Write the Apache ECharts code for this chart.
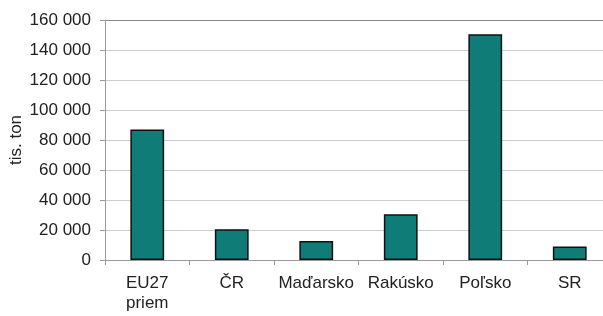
<!DOCTYPE html>
<html>
<head>
<meta charset="utf-8">
<script src="https://cdn.jsdelivr.net/npm/echarts@6/dist/echarts.min.js"></script>
<style>html,body{margin:0;padding:0;background:#fff;}#c{width:603px;height:316px;}</style>
</head>
<body>
<div id="c"></div>
<script>
const categories = ["EU27\npriem", "ČR", "Maďarsko", "Rakúsko", "Poľsko", "SR"];
const values = [87000, 20500, 12700, 30500, 150500, 9000];
const yTicks = { min: 0, max: 160000, interval: 20000 };
const yName = "tis. ton";

const chart = echarts.init(document.getElementById('c'), null, { renderer: 'canvas' });
const fmt = v => String(v).replace(/\B(?=(\d{3})+(?!\d))/g, ' ');
chart.setOption({
  animation: false,
  backgroundColor: '#fff',
  grid: { left: 105, top: 20, width: 507, height: 240, containLabel: false, outerBoundsMode: 'none' },
  xAxis: {
    type: 'category',
    data: categories,
    boundaryGap: true,
    axisLine: { lineStyle: { color: '#9a9a9a', width: 1 } },
    axisTick: { show: true, length: 5, lineStyle: { color: '#9a9a9a' } },
    axisLabel: { color: '#222', fontSize: 17, fontFamily: 'Liberation Sans, Arial', margin: 13, lineHeight: 20, interval: 0 }
  },
  yAxis: {
    type: 'value',
    min: yTicks.min, max: yTicks.max, interval: yTicks.interval,
    name: yName,
    nameLocation: 'middle',
    nameGap: 80,
    nameMoveOverlap: false,
    nameTextStyle: { color: '#222', fontSize: 17, fontFamily: 'Liberation Sans, Arial' },
    axisLine: { show: true, lineStyle: { color: '#9a9a9a', width: 1 } },
    axisTick: { show: true, length: 5, lineStyle: { color: '#9a9a9a' } },
    axisLabel: { color: '#222', fontSize: 17, fontFamily: 'Liberation Sans, Arial', margin: 14, formatter: fmt },
    splitLine: { show: true, lineStyle: { color: ['#cccccc','#cccccc','#cccccc','#cccccc','#cccccc','#cccccc','#cccccc','#cccccc','#8a8a8a'], width: 1 } }
  },
  series: [{
    type: 'bar',
    data: values,
    barWidth: '40%',
    itemStyle: { color: '#0f7c78', borderColor: '#111', borderWidth: 1.5 }
  }]
});
</script>
</body>
</html>
